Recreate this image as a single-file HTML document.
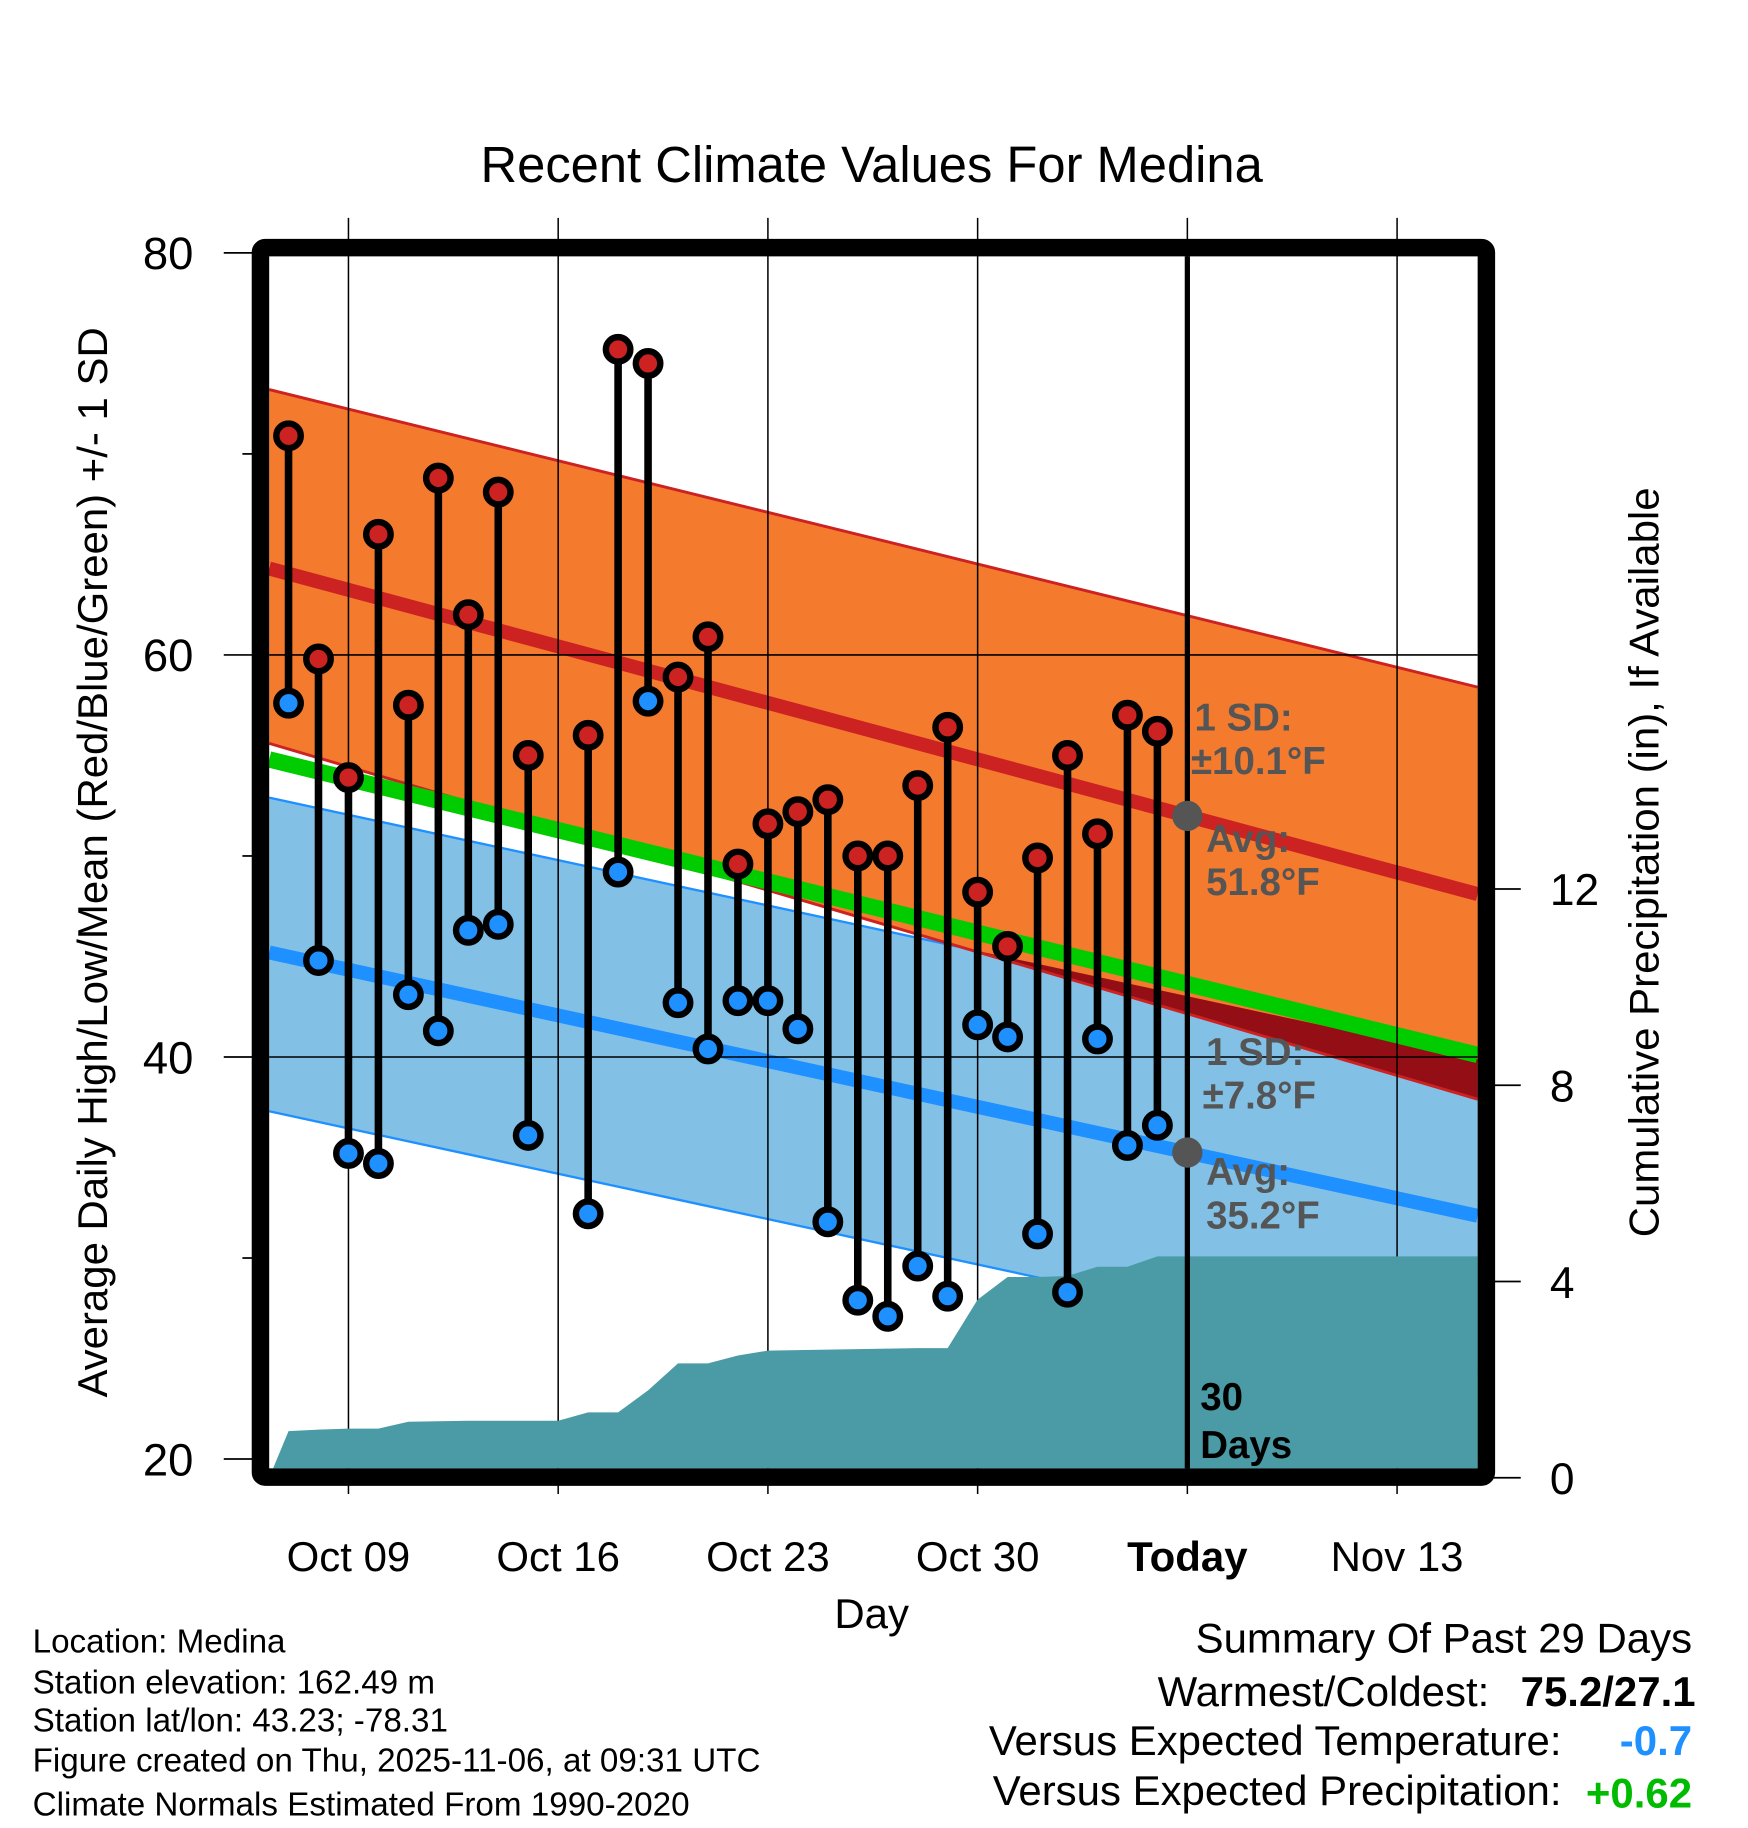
<!DOCTYPE html>
<html><head><meta charset="utf-8"><style>
html,body{margin:0;padding:0;background:#fff;}
svg{display:block;font-family:"Liberation Sans",sans-serif;}
</style></head><body>
<svg id="chart" width="1748" height="1828" viewBox="0 0 1500 1568.6" preserveAspectRatio="none" xmlns="http://www.w3.org/2000/svg">
<g id="fills"></g><g id="grid"></g><g id="precip"></g><g id="marks"></g><g id="frame"></g><g id="labels"></g>
</svg>
<script>
// ---- data ----
const days = ["Oct 07","Oct 08","Oct 09","Oct 10","Oct 11","Oct 12","Oct 13","Oct 14","Oct 15","Oct 16","Oct 17","Oct 18","Oct 19","Oct 20","Oct 21","Oct 22","Oct 23","Oct 24","Oct 25","Oct 26","Oct 27","Oct 28","Oct 29","Oct 30","Oct 31","Nov 01","Nov 02","Nov 03","Nov 04","Nov 05"];
const highs = [70.9,59.8,53.9,66.0,57.5,68.8,62.0,68.1,55.0,null,56.0,75.2,74.5,58.9,60.9,49.6,51.6,52.2,52.8,50.0,50.0,53.5,56.4,48.2,45.5,49.9,55.0,51.1,57.0,56.2];
const lows  = [57.6,44.8,35.2,34.7,43.1,41.3,46.3,46.6,36.1,null,32.2,49.2,57.7,42.7,40.4,42.8,42.8,41.4,31.8,27.9,27.1,29.6,28.1,41.6,41.0,31.2,28.3,40.9,35.6,36.6];
const precip = [0.95,0.98,1.0,1.0,1.14,1.15,1.16,1.16,1.16,1.16,1.33,1.33,1.78,2.33,2.33,2.49,2.59,2.60,2.61,2.62,2.63,2.64,2.64,3.63,4.09,4.09,4.11,4.30,4.30,4.51];
const highAvg = [64.3,48.1], highUp = [73.2,58.4], highLo = [55.6,37.9];
const meanAvg = [54.8,40.1];
const lowAvg = [45.2,32.1], lowUp = [52.9,39.9], lowLo = [37.3,24.3];
const yTicks = [20,40,60,80], yMinor=[30,50,70];
const pTicks = [0,4,8,12];
const xTickDays = [2,9,16,23,30,37];
const xTickLabels = ["Oct 09","Oct 16","Oct 23","Oct 30","Today","Nov 13"];
const todayIdx = 30;

// ---- axes ----
const L=231,R=1268,T=220,B=1260;
const X = d => 247.6 + d*25.71;
const Y = v => 1252 - (v-20)*17.25;
const P = v => 1268 - v*42.1;
const NS="http://www.w3.org/2000/svg";
function mk(parent,tag,attrs){const e=document.createElementNS(NS,tag);for(const k in attrs)e.setAttribute(k,attrs[k]);document.getElementById(parent).appendChild(e);return e;}
function txt(parent,x,y,s,attrs){const e=mk(parent,'text',Object.assign({x:x,y:y},attrs));e.textContent=s;return e;}
const lin=(a,x)=>a[0]+(a[1]-a[0])*(x-L)/(R-L);
function band(up,lo,fill,name){
  const e=mk('fills','polygon',{points:`${L},${Y(up[0])} ${R},${Y(up[1])} ${R},${Y(lo[1])} ${L},${Y(lo[0])}`,fill:fill});
  
  
}
function line(a,color,w,name){
  const e=mk('fills','line',{x1:L,y1:Y(a[0]),x2:R,y2:Y(a[1]),stroke:color,'stroke-width':w});
  
  
}
band(lowUp,lowLo,'#82c0e6','low-sd-band');
line(lowUp,'#1e90ff',2,'low-sd-upper');
line(lowLo,'#1e90ff',2,'low-sd-lower');
band(highUp,highLo,'#f47a2e','high-sd-band');
(function(){
  const pts=[];const N=100;
  for(let i=0;i<=N;i++){const x=L+(R-L)*i/N;const a=lin(highLo,x),b=lin(lowUp,x);if(a<b)pts.push([x,Y(Math.min(a,b)),Y(b)]);}
  if(pts.length){let s=pts.map(p=>p[0]+','+p[2]).join(' ')+' '+pts.slice().reverse().map(p=>p[0]+','+p[1]).join(' ');
  const e=mk('fills','polygon',{points:s,fill:'#930f15'});
  
  }
})();
line(highUp,'#cc2222',2.5,'high-sd-upper');
line(highLo,'#cc2222',2.5,'high-sd-lower');
line(meanAvg,'#00cc00',14,'mean-normal-line');
line(highAvg,'#cc2222',12,'high-normal-line');
line(lowAvg,'#1e90ff',12,'low-normal-line');

xTickDays.forEach((d,i)=>{
  const e=mk('grid','line',{x1:X(d),y1:187,x2:X(d),y2:1282,stroke:'#000','stroke-width':1.3});
  
  
});
[40,60].forEach(v=>{
  const e=mk('grid','line',{x1:L,y1:Y(v),x2:R,y2:Y(v),stroke:'#000','stroke-width':1.3});
  
  
});

(function(){
  let s=`${L},${B} ${L},${P(0)} `;
  precip.forEach((v,i)=>{s+=`${X(i)},${P(v)} `;});
  s+=`${R},${P(precip[precip.length-1])} ${R},${B}`;
  const e=mk('precip','polygon',{points:s,fill:'#4a9ba5'});
  
  
})();

(function(){
  const e=mk('marks','line',{x1:X(todayIdx),y1:T,x2:X(todayIdx),y2:B,stroke:'#000','stroke-width':4.5});
  
  
})();

days.forEach((d,i)=>{
  if(highs[i]==null)return;
  const s=mk('marks','line',{x1:X(i),y1:Y(highs[i]),x2:X(i),y2:Y(lows[i]),stroke:'#000','stroke-width':6.5});
  
  
  const h=mk('marks','circle',{cx:X(i),cy:Y(highs[i]),r:10.5,fill:'#cc2222',stroke:'#000','stroke-width':5.5});
  
  
  const l=mk('marks','circle',{cx:X(i),cy:Y(lows[i]),r:10.5,fill:'#1e90ff',stroke:'#000','stroke-width':5.5});
  
  
});
[lin(highAvg,X(todayIdx)),lin(lowAvg,X(todayIdx))].forEach(v=>{
  const e=mk('marks','circle',{cx:X(todayIdx),cy:Y(v),r:13,fill:'#555'});
  
  
});

(function(){
  const e=mk('frame','rect',{x:223.5,y:212.5,width:1052,height:1055,fill:'none',stroke:'#000','stroke-width':15,rx:4});
  
  
})();
yTicks.forEach(v=>{
  const t=mk('frame','line',{x1:192,y1:Y(v),x2:218,y2:Y(v),stroke:'#000','stroke-width':1.5});
  
  
  const l=txt('labels',166,Y(v)+14,String(v),{'font-size':39,'text-anchor':'end'});
  
  
});
yMinor.forEach(v=>{
  const t=mk('frame','line',{x1:208,y1:Y(v),x2:218,y2:Y(v),stroke:'#000','stroke-width':1.5});
  
  
});
pTicks.forEach(v=>{
  const t=mk('frame','line',{x1:1280,y1:P(v),x2:1305,y2:P(v),stroke:'#000','stroke-width':1.5});
  
  
  const l=txt('labels',1330,P(v)+14,String(v),{'font-size':38});
  
  
});
xTickDays.forEach((d,i)=>{
  const l=txt('labels',X(d),1348,xTickLabels[i],{'font-size':36,'text-anchor':'middle','font-weight':xTickLabels[i]=='Today'?'bold':'normal'});
  
  
});
</script>
<script>
(function(){
const NS="http://www.w3.org/2000/svg";const g=document.getElementById('labels');
function t(x,y,s,a,name){const e=document.createElementNS(NS,'text');e.setAttribute('x',x);e.setAttribute('y',y);for(const k in a)e.setAttribute(k,a[k]);e.textContent=s;


g.appendChild(e);return e;}
t(748,156,'Recent Climate Values For Medina',{'font-size':43.5,'text-anchor':'middle'},'chart-title');
t(0,0,'Average Daily High/Low/Mean (Red/Blue/Green) +/- 1 SD',{'font-size':36,'text-anchor':'middle',transform:'translate(92,740) rotate(-90)'},'y-axis-title');
t(0,0,'Cumulative Precipitation (in), If Available',{'font-size':36,'text-anchor':'middle',transform:'translate(1423,740) rotate(-90)'},'precip-axis-title');
t(748,1397,'Day',{'font-size':36,'text-anchor':'middle'},'x-axis-title');
const gs={'font-size':33,'font-weight':'bold',fill:'#555'};
t(1025,627,'1 SD:',gs,'high-sd-label');t(1022,664,'±10.1°F',gs,'high-sd-value');
t(1035,731,'Avg:',gs,'high-avg-label');t(1035,768,'51.8°F',gs,'high-avg-value');
t(1035,914,'1 SD:',gs,'low-sd-label');t(1032,951,'±7.8°F',gs,'low-sd-value');
t(1035,1017,'Avg:',gs,'low-avg-label');t(1035,1054,'35.2°F',gs,'low-avg-value');
t(1030,1210,'30',{'font-size':33,'font-weight':'bold'},'days-label');t(1030,1251,'Days',{'font-size':33,'font-weight':'bold'},'days-label');
const ls={'font-size':28.5};
t(28,1418,'Location: Medina',ls,'location-text');
t(28,1453,'Station elevation: 162.49 m',ls,'elevation-text');
t(28,1486,'Station lat/lon: 43.23; -78.31',ls,'latlon-text');
t(28,1520,'Figure created on Thu, 2025-11-06, at 09:31 UTC',ls,'created-text');
t(28,1558,'Climate Normals Estimated From 1990-2020',ls,'normals-text');
const rs={'font-size':36,'text-anchor':'end'};
t(1452,1418,'Summary Of Past 29 Days',rs,'summary-title');
t(1278,1464,'Warmest/Coldest:',rs,'warmest-label');
t(1455,1464,'75.2/27.1',{'font-size':36,'text-anchor':'end','font-weight':'bold'},'warmest-value');
t(1340,1506,'Versus Expected Temperature:',rs,'temp-anom-label');
t(1452,1506,'-0.7',{'font-size':36,'text-anchor':'end','font-weight':'bold',fill:'#1e90ff'},'temp-anom-value');
t(1340,1549,'Versus Expected Precipitation:',rs,'precip-anom-label');
t(1452,1551,'+0.62',{'font-size':36,'text-anchor':'end','font-weight':'bold',fill:'#00bb00'},'precip-anom-value');
})();
</script>
</body></html>
